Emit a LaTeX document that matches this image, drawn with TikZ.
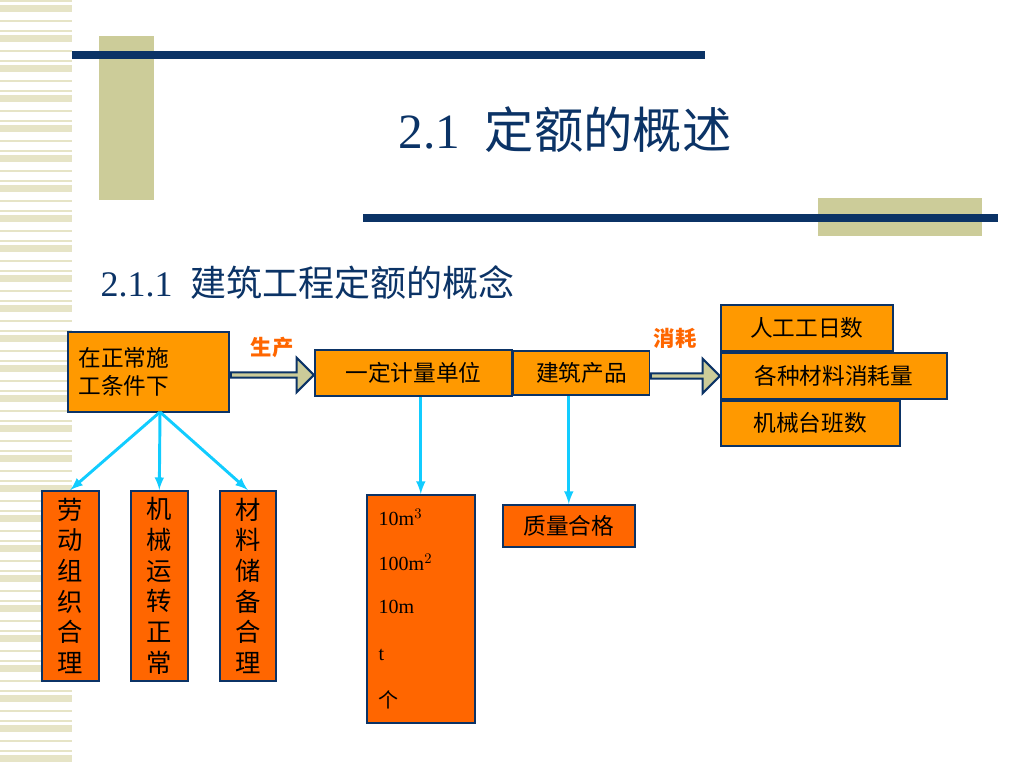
\documentclass[tikz,border=0pt]{standalone}
\usepackage{fontspec}
\setmainfont{Liberation Serif}
\newfontfamily\cjk{Noto Sans CJK SC}
\usetikzlibrary{shapes.arrows}
\definecolor{navy}{HTML}{0B3366}
\definecolor{khaki}{HTML}{CCCC99}
\definecolor{stripe}{HTML}{E6E4C6}
\definecolor{boxorange}{HTML}{FF9900}
\definecolor{deeporange}{HTML}{FF6600}
\definecolor{linkcyan}{HTML}{11CCFF}
\tikzset{
  box/.style={draw=navy, line width=1.2pt, fill=boxorange, inner sep=0pt, font=\cjk\fontsize{17}{21}\selectfont},
  deepbox/.style={box, fill=deeporange},
  bigarrow/.style={single arrow, draw=navy, line width=1.5pt, fill=khaki, minimum height=#1*0.75, minimum width=26, single arrow head extend=4pt, inner sep=0pt},
  link/.style={draw=linkcyan, line width=2.2pt, -latex},
  tag/.style={text=deeporange, font=\cjk\bfseries\fontsize{16}{18}\selectfont},
  vtext/.style={font=\cjk\fontsize{19}{23}\selectfont, align=center}
}
\begin{document}
\begin{tikzpicture}[x=0.75pt, y=-0.75pt]
\useasboundingbox (0,0) rectangle (1024,768);
% left stripes
\foreach \y in {0,10,...,760} \fill[stripe] (0,\y) rectangle (72,\y+2);
\foreach \y in {5,35,65,95,125,155,185,215,245,275,305,335,365,395,425,455,485,515,545,575,605,635,665,695,725,755} \fill[stripe] (0,\y) rectangle (72,\y+5);

% decor bars
\fill[khaki] (99,36) rectangle (154,200);
\fill[navy] (72,51) rectangle (705,59);
\fill[khaki] (818,198) rectangle (982,236);
\fill[navy] (363,214) rectangle (998,222);

% titles
\node[text=navy, font=\fontsize{37}{40}\selectfont] (title) at (565,130) {2.1\ \ {\cjk 定额的概述}};
\node[text=navy, anchor=west, font=\fontsize{27}{30}\selectfont] (subtitle) at (96,283) {2.1.1\ \ {\cjk 建筑工程定额的概念}};

% main chain
\node[box, minimum width=161*0.75, minimum height=80*0.75, align=left, text width=105] (cond) at (148.5,372) {在正常施\\工条件下};
\node[box, minimum width=197*0.75, minimum height=46*0.75] (unit) at (413.5,373) {一定计量单位};
\node[box, minimum width=136*0.75, minimum height=44*0.75, anchor=west] (prod) at (unit.east) {建筑产品};
\node[bigarrow=83] (arr1) at (271,375) {};
\node[bigarrow=69] (arr2) at (684,376) {};
\node[tag] (make) at (272,347) {生产};
\node[tag] (use) at (675,338) {消耗};

% consumption
\node[box, minimum width=172*0.75, minimum height=46*0.75, anchor=north west] (labour) at (720,304) {人工工日数};
\node[box, minimum width=226*0.75, minimum height=46*0.75, anchor=north west] (material) at (720,352) {各种材料消耗量};
\node[box, minimum width=179*0.75, minimum height=45*0.75, anchor=north west] (machine) at (720,400) {机械台班数};

% conditions
\node[deepbox, vtext, minimum width=57*0.75, minimum height=190*0.75, anchor=north west] (c1) at (41,490) {劳\\动\\组\\织\\合\\理};
\node[deepbox, vtext, minimum width=57*0.75, minimum height=190*0.75, anchor=north west] (c2) at (130,490) {机\\械\\运\\转\\正\\常};
\node[deepbox, vtext, minimum width=56*0.75, minimum height=190*0.75, anchor=north west] (c3) at (219,490) {材\\料\\储\\备\\合\\理};

% units and quality
\node[deepbox, minimum width=108*0.75, minimum height=228*0.75, anchor=north west] (units) at (366,494) {};
\foreach \t/\y in {10m$^3$/517, 100m$^2$/562, 10m/607, t/655, {\cjk 个}/700}
  \node[anchor=west, font=\fontsize{15}{18}\selectfont] at (374,\y) {\t};
\node[deepbox, minimum width=132*0.75, minimum height=42*0.75, anchor=north west] (quality) at (502,504) {质量合格};

% links
\coordinate (fork) at (160,412);
\draw[link] (fork) -- (c1.north);
\draw[link] (fork) -- (c2.north);
\draw[link] (fork) -- (c3.north);
\draw[link] (unit.south -| units.north) -- (units.north);
\draw[link] (prod.south -| quality.north) -- (quality.north);
\end{tikzpicture}
\end{document}
